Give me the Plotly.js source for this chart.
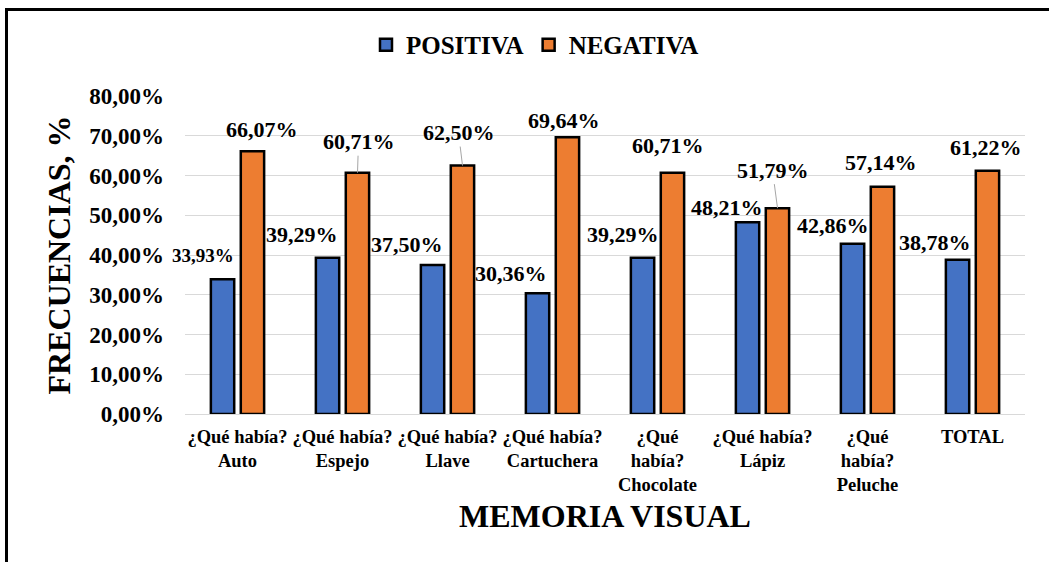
<!DOCTYPE html>
<html>
<head>
<meta charset="utf-8">
<script src="https://cdn.plot.ly/plotly-3.0.1.min.js"></script>
<style>
  html, body { margin: 0; padding: 0; background: #fff; overflow: hidden; }
  #wrap { position: relative; width: 1049px; height: 562px; overflow: hidden; }
  #chart { position: absolute; left: 0; top: 0; width: 1049px; height: 562px; }
  #frame { position: absolute; left: 5px; top: 8px; width: 2000px; height: 2000px;
           border: 3px solid #000; box-sizing: border-box; pointer-events: none; }
</style>
</head>
<body>
<div id="wrap"><div id="chart"></div><div id="frame"></div></div>
<script>
// ---- data ----
const categories = [
  "¿Qué había?<br>Auto",
  "¿Qué había?<br>Espejo",
  "¿Qué había?<br>Llave",
  "¿Qué había?<br>Cartuchera",
  "¿Qué<br>había?<br>Chocolate",
  "¿Qué había?<br>Lápiz",
  "¿Qué<br>había?<br>Peluche",
  "TOTAL"
];
const seriesNames = ["POSITIVA", "NEGATIVA"];
const positiva = [33.93, 39.29, 37.50, 30.36, 39.29, 48.21, 42.86, 38.78];
const negativa = [66.07, 60.71, 62.50, 69.64, 60.71, 51.79, 57.14, 61.22];
const yTickVals = [0, 10, 20, 30, 40, 50, 60, 70, 80];

// ---- label placement (pixel offsets, style only) ----
const barOffset = 15;
const posLabelDx = [-20, -26, -26, -27, -20, -21, -20, -23];
const posLabelDy = [-24, -23, -20, -20, -23, -15, -18, -17];
const posLabelSize = [19, 22, 22, 22, 22, 22, 22, 22];
const negLabelDx = [9, 1, -4, -4, -5, -5, -2, -2];
const negLabelDy = [-22, -31, -33, -17, -27, -38, -24, -23];
const negLeader = [false, true, true, false, false, true, false, false];

const FONT = "'Liberation Serif', 'Times New Roman', Times, serif";
const BLUE = "#4472C4", ORANGE = "#ED7D31";

function fmt(v) { return v.toFixed(2).replace('.', ',') + '%'; }

const traces = [
  { type: 'bar', name: seriesNames[0], x: categories, y: positiva,
    marker: { color: BLUE, line: { color: '#000', width: 2.5 } }, hoverinfo: 'x+y' },
  { type: 'bar', name: seriesNames[1], x: categories, y: negativa,
    marker: { color: ORANGE, line: { color: '#000', width: 2.5 } }, hoverinfo: 'x+y' }
];

const annotations = [];
categories.forEach((c, i) => {
  annotations.push({
    x: c, y: positiva[i], xref: 'x', yref: 'y',
    text: fmt(positiva[i]), showarrow: false,
    xanchor: 'center', yanchor: 'middle',
    xshift: -barOffset + posLabelDx[i], yshift: -posLabelDy[i],
    font: { family: FONT, size: posLabelSize[i], color: '#000', weight: 700 }
  });
  if (negLeader[i]) {
    annotations.push({
      x: c, y: negativa[i], xref: 'x', yref: 'y',
      text: fmt(negativa[i]), showarrow: true,
      arrowhead: 0, arrowwidth: 1, arrowcolor: '#a6a6a6', standoff: 0,
      ax: negLabelDx[i], ay: negLabelDy[i],
      xanchor: 'center', yanchor: 'middle',
      xshift: barOffset,
      font: { family: FONT, size: 22, color: '#000', weight: 700 }
    });
  } else {
    annotations.push({
      x: c, y: negativa[i], xref: 'x', yref: 'y',
      text: fmt(negativa[i]), showarrow: false,
      xanchor: 'center', yanchor: 'middle',
      xshift: barOffset + negLabelDx[i], yshift: -negLabelDy[i],
      font: { family: FONT, size: 22, color: '#000', weight: 700 }
    });
  }
});

const layout = {
  width: 1049, height: 562,
  paper_bgcolor: '#fff', plot_bgcolor: '#fff',
  margin: { l: 185, r: 24, t: 96, b: 148, autoexpand: false },
  separators: ',.',
  font: { family: FONT, color: '#000' },
  barmode: 'group', bargap: 0.43, bargroupgap: 0.22,
  showlegend: true,
  legend: {
    orientation: 'h', xref: 'container', yref: 'container',
    x: 0.51, xanchor: 'center', y: 0.92, yanchor: 'middle',
    font: { family: FONT, size: 25, color: '#000', weight: 700 }
  },
  xaxis: {
    type: 'category', automargin: false,
    autorange: false, range: [-0.5, categories.length - 0.5],
    showgrid: false, showline: true, linecolor: '#d9d9d9', linewidth: 1,
    ticks: '', ticklabelstandoff: 6,
    tickfont: { family: FONT, size: 18.5, color: '#000', weight: 700 },
    title: { text: 'MEMORIA VISUAL', standoff: 10,
             font: { family: FONT, size: 32, color: '#000', weight: 700 } }
  },
  yaxis: {
    automargin: false, autorange: false,
    range: [0, 80], tickmode: 'array', tickvals: yTickVals, ticktext: yTickVals.map(fmt),
    showgrid: true, gridcolor: '#d9d9d9', gridwidth: 1,
    zeroline: true, zerolinecolor: '#d9d9d9', zerolinewidth: 1,
    showline: false, ticks: '', ticklabelstandoff: 20,
    tickfont: { family: FONT, size: 23, color: '#000', weight: 700 },
    title: { text: 'FRECUENCIAS, %', standoff: 9,
             font: { family: FONT, size: 32, color: '#000', weight: 700 } }
  },
  annotations: annotations
};

Plotly.newPlot('chart', traces, layout, { staticPlot: true, displayModeBar: false });
</script>
</body>
</html>
